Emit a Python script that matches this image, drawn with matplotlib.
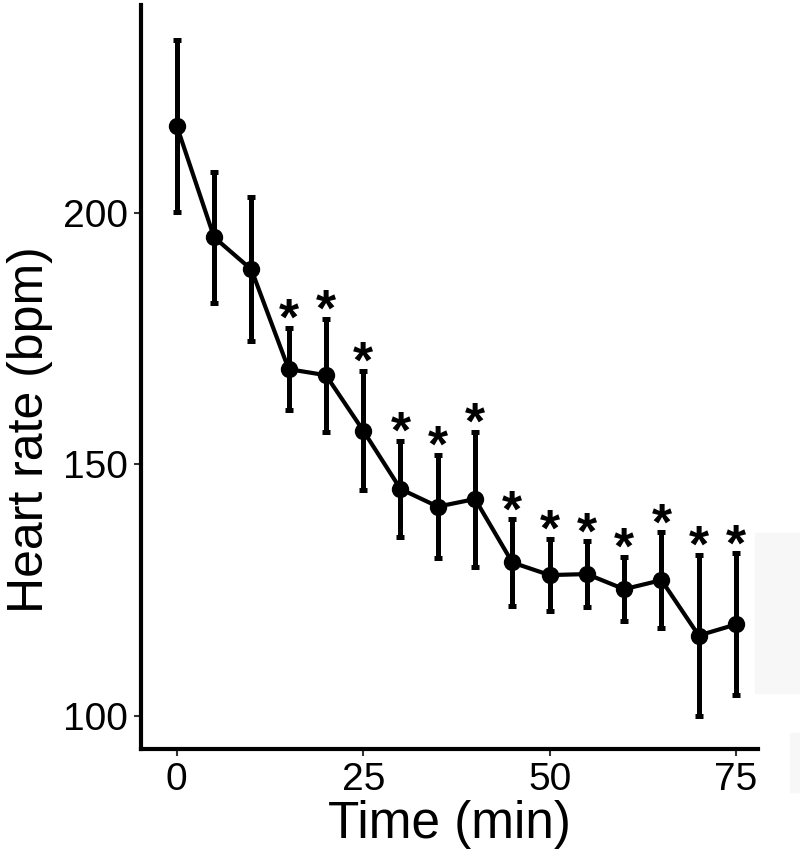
import matplotlib
matplotlib.use("Agg")
import matplotlib.pyplot as plt
from matplotlib.patches import Rectangle

time_min = [0, 5, 10, 15, 20, 25, 30, 35, 40, 45, 50, 55, 60, 65, 70, 75]
heart_rate = [217.2, 195.1, 188.7, 168.9, 167.7, 156.7, 145.1, 141.6, 143.1,
              130.5, 128.0, 128.2, 125.2, 127.0, 116.0, 118.2]
sd = [17.1, 13.0, 14.3, 8.2, 11.2, 11.8, 9.6, 10.3, 13.4, 8.6, 7.2, 6.5, 6.4, 9.5, 16.0, 14.1]
significant = [False, False, False, True, True, True, True, True, True,
               True, True, True, True, True, True, True]
x_ticks = [0, 25, 50, 75]
y_ticks = [100, 150, 200]

plt.rcParams['font.family'] = ['Liberation Sans', 'DejaVu Sans']

fig = plt.figure(figsize=(8, 8.58), dpi=100)
ax = fig.add_axes([0.176, 0.127, 0.7715, 0.867])

# faint background artefacts at right edge
fig.patches.append(Rectangle((755/800, 1-693/858), 45/800, 160/858,
                             transform=fig.transFigure, color='#f7f7f7', zorder=0))
fig.patches.append(Rectangle((790/800, 1-792/858), 10/800, 59/858,
                             transform=fig.transFigure, color='#f7f7f7', zorder=0))

ax.errorbar(time_min, heart_rate, yerr=sd, fmt='-o', color='black',
            lw=3, ms=11.5, elinewidth=3.6, capsize=3, capthick=3.6, zorder=3)

for t, m, s, sig in zip(time_min, heart_rate, sd, significant):
    if sig:
        ax.annotate('*', xy=(t, m + s), xytext=(0, -5), textcoords='offset points',
                    ha='center', va='baseline', fontsize=37, fontweight='bold')

ax.set_xlim(-4.83, 77.95)
ax.set_ylim(93.45, 241.2)
ax.set_xticks(x_ticks)
ax.set_yticks(y_ticks)
ax.tick_params(axis='both', labelsize=28, length=5, width=1.5, color='#333333',
               pad=4)
for side in ['top', 'right']:
    ax.spines[side].set_visible(False)
for side in ['left', 'bottom']:
    ax.spines[side].set_linewidth(3)
ax.set_xlabel('Time (min)', fontsize=37, labelpad=2)
ax.set_ylabel('Heart rate (bpm)', fontsize=36)
ax.yaxis.set_label_coords(-0.1426, 0.43)

fig.savefig('out.png', dpi=100)
